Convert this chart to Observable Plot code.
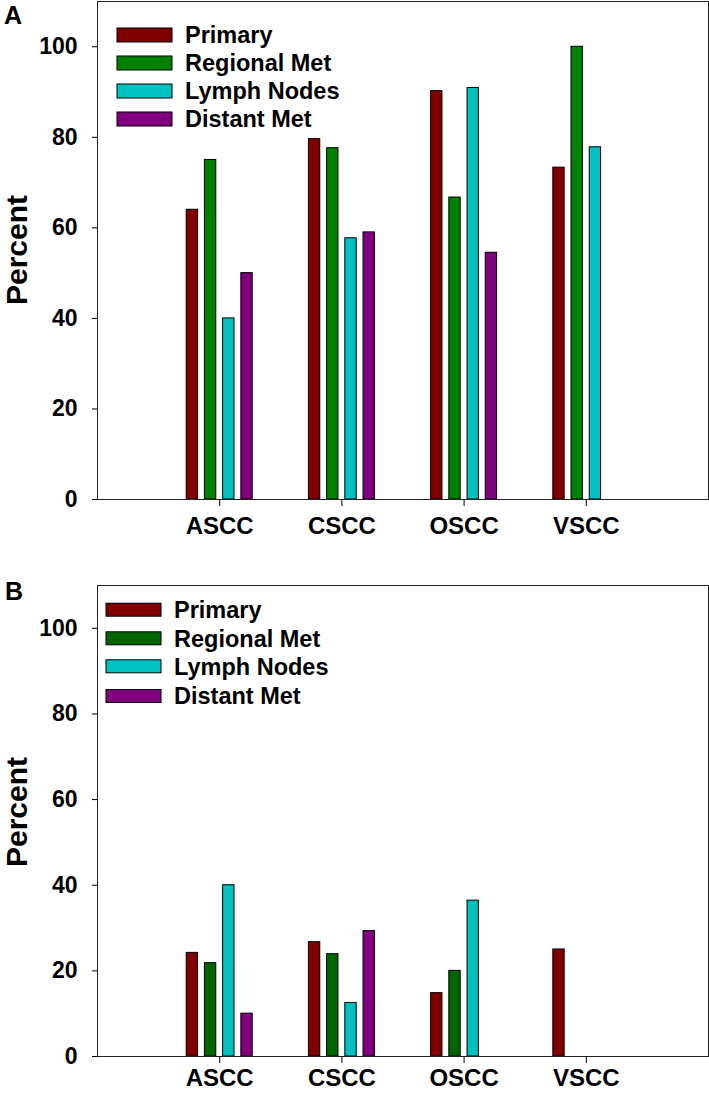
<!DOCTYPE html>
<html>
<head>
<meta charset="utf-8">
<script src="https://cdn.jsdelivr.net/npm/d3@7"></script>
<script src="https://cdn.jsdelivr.net/npm/@observablehq/plot@0.6"></script>
<style>
  body { margin: 0; background: #fff; }
  #chart svg { display: block; }
</style>
</head>
<body>
<div id="chart"></div>
<script>
// ---- data ----
const categories = ["ASCC", "CSCC", "OSCC", "VSCC"];
const series = ["Primary", "Regional Met", "Lymph Nodes", "Distant Met"];
const yTicks = [0, 20, 40, 60, 80, 100];

// Panel A
const primaryA  = [64.0, 79.6, 90.2, 73.3];
const regionalA = [75.0, 77.6, 66.7, 100.0];
const lymphA    = [40.0, 57.7, 90.9, 77.8];
const distantA  = [50.0, 59.0, 54.5, null];

// Panel B
const primaryB  = [24.2, 26.7, 14.8, 25.0];
const regionalB = [21.8, 23.9, 20.0, null];
const lymphB    = [40.0, 12.5, 36.4, null];
const distantB  = [10.0, 29.3, null, null];

const colorsA = ["#800000", "#008000", "#00c0c0", "#800080"];
const colorsB = ["#800000", "#006400", "#00c0c0", "#800080"];

// ---- layout constants ----
const BAR_STEP = 0.149;  // distance between bars in a group (x units)
const BAR_W = 0.093;     // bar width (x units)
const FONT = "'Liberation Sans', Arial, Helvetica, sans-serif";

function makePanel(vals, colors, o) {
  const rows = [];
  categories.forEach((c, i) => {
    series.forEach((s, j) => {
      const v = vals[j][i];
      if (v != null) rows.push({cat: c, series: s, pos: i + 1, j, value: v});
    });
  });
  const svg = Plot.plot({
    width: 709,
    height: o.height,
    marginLeft: 97,
    marginRight: 1,
    marginTop: o.mt,
    marginBottom: o.mb,
    style: {fontFamily: FONT, fontWeight: "bold", color: "black", background: "white"},
    x: {domain: [0, 5], axis: null},
    y: {domain: [0, 110], axis: null},
    color: {domain: series, range: colors},
    marks: [
      Plot.rectY(rows, {
        x1: d => d.pos + (d.j - 1.5) * BAR_STEP - BAR_W / 2,
        x2: d => d.pos + (d.j - 1.5) * BAR_STEP + BAR_W / 2,
        y1: 0,
        y2: "value",
        fill: "series",
        stroke: "black",
        strokeWidth: 1
      }),
      Plot.frame({stroke: "#222", strokeWidth: 1}),
      Plot.axisY({ticks: yTicks, tickSize: 5, tickPadding: 15, fontSize: 23, label: null}),
      Plot.axisX({ticks: [1, 2, 3, 4], tickFormat: d => categories[d - 1], tickSize: 7,
                  tickPadding: o.xpad, fontSize: 24, label: null})
    ]
  });
  const s = d3.select(svg);
  // panel letter
  s.append("text").attr("x", o.letterX).attr("y", o.letterY)
    .attr("text-anchor", "start")
    .attr("font-size", 25).attr("font-weight", "bold").attr("font-family", FONT)
    .attr("fill", "black").text(o.letter);
  // y label
  s.append("text").attr("transform", `translate(27,${o.labelY}) rotate(-90)`)
    .attr("text-anchor", "middle").attr("font-size", 30).attr("font-weight", "bold")
    .attr("font-family", FONT).attr("fill", "black").text("Percent");
  // legend
  const lg = s.append("g").attr("text-anchor", "start");
  series.forEach((name, j) => {
    const cy = o.legY[j];
    lg.append("rect").attr("x", o.legX).attr("y", cy - o.swH / 2)
      .attr("width", 55).attr("height", o.swH)
      .attr("fill", colors[j]).attr("stroke", "black").attr("stroke-width", 1);
    lg.append("text").attr("x", o.legX + o.textGap).attr("y", cy).attr("dy", "0.36em")
      .attr("text-anchor", "start")
      .attr("font-size", 23.5).attr("font-weight", "bold").attr("font-family", FONT)
      .attr("fill", "black").text(name);
  });
  return svg;
}

const chart = document.getElementById("chart");
chart.append(makePanel([primaryA, regionalA, lymphA, distantA], colorsA, {
  height: 560, mt: 1, mb: 61, xpad: 10,
  letter: "A", letterX: 4, letterY: 24, labelY: 250,
  legX: 117, textGap: 68, swH: 14, legY: [35, 63, 91, 119]
}));
chart.append(makePanel([primaryB, regionalB, lymphB, distantB], colorsB, {
  height: 535, mt: 25, mb: 39, xpad: 5,
  letter: "B", letterX: 5, letterY: 40, labelY: 252,
  legX: 106, textGap: 68, swH: 13, legY: [49.7, 78.3, 106.3, 136]
}));
</script>
</body>
</html>
